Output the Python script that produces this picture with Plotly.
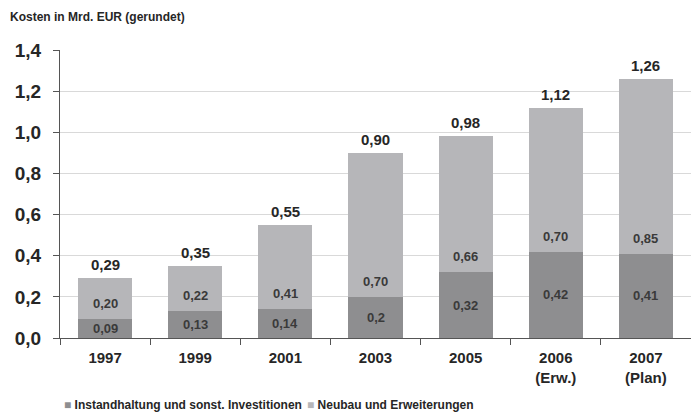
import plotly.graph_objects as go

# Jahre (Achsenbeschriftung) und Kosten in Mrd. EUR
years = ["1997", "1999", "2001", "2003", "2005", "2006<br>(Erw.)", "2007<br>(Plan)"]
instandhaltung = [0.09, 0.13, 0.14, 0.2, 0.32, 0.42, 0.41]
neubau = [0.20, 0.22, 0.41, 0.70, 0.66, 0.70, 0.85]
instandhaltung_text = ["0,09", "0,13", "0,14", "0,2", "0,32", "0,42", "0,41"]
neubau_text = ["0,20", "0,22", "0,41", "0,70", "0,66", "0,70", "0,85"]
gesamt = [0.29, 0.35, 0.55, 0.90, 0.98, 1.12, 1.26]
series_names = ["Instandhaltung und sonst. Investitionen", "Neubau und Erweiterungen"]

DARK = "#8e8e90"
LIGHT = "#b6b6b9"
FONT = "Liberation Sans, Arial, sans-serif"

fig = go.Figure()
for name, vals, col in zip(series_names, [instandhaltung, neubau], [DARK, LIGHT]):
    fig.add_trace(go.Bar(
        x=years, y=vals, name=name, showlegend=False,
        marker=dict(color=col, line=dict(width=0)), width=0.6,
    ))

annotations = []
for i, (b, n, bt, nt, tot) in enumerate(zip(instandhaltung, neubau,
                                            instandhaltung_text, neubau_text, gesamt)):
    # Wert im unteren Segment
    annotations.append(dict(x=i, y=b / 2, text=f"<b>{bt}</b>", showarrow=False,
                            yanchor="middle", font=dict(size=13, color="#3a3a3a", family=FONT)))
    # Wert im oberen Segment, knapp über der Segmentgrenze
    annotations.append(dict(x=i, y=b, text=f"<b>{nt}</b>", showarrow=False,
                            yanchor="bottom", yshift=6,
                            font=dict(size=13, color="#3a3a3a", family=FONT)))
    # Gesamtsumme über dem Balken
    annotations.append(dict(x=i, y=tot, text=f"<b>{f'{tot:.2f}'.replace('.', ',')}</b>",
                            showarrow=False, yanchor="bottom", yshift=3,
                            font=dict(size=15, color="#262626", family=FONT)))

annotations.append(dict(xref="paper", yref="paper", x=-0.083, y=1.115, xanchor="left",
                        yanchor="middle", showarrow=False,
                        text="<b>Kosten in Mrd. EUR (gerundet)</b>",
                        font=dict(size=12, color="#262626", family=FONT)))

# Legende unter der Grafik
legend_x = [0.003, 0.389]
for name, col, lx in zip(series_names, [DARK, LIGHT], legend_x):
    annotations.append(dict(xref="paper", yref="paper", x=lx, y=-0.232, xanchor="left",
                            yanchor="middle", showarrow=False,
                            text=f"<span style='color:{col}'>■</span> <b>{name}</b>",
                            font=dict(size=12, color="#262626", family=FONT)))

fig.update_layout(
    barmode="stack",
    width=691, height=412,
    margin=dict(l=60, r=0, t=50, b=74),
    paper_bgcolor="white", plot_bgcolor="white",
    separators=",.",
    font=dict(family=FONT, color="#262626"),
    annotations=annotations,
    showlegend=False,
)
fig.update_xaxes(
    type="category", range=[-0.5, 6.5],
    showline=True, linecolor="#555555", linewidth=1,
    ticks="outside", tickson="boundaries", ticklen=6, tickcolor="#555555",
    tickfont=dict(size=15, color="#262626", family=FONT),
    tickprefix="<b>", ticksuffix="</b>", ticklabelstandoff=6,
    showgrid=False,
)
fig.update_yaxes(
    range=[0, 1.4], dtick=0.2, tickformat=".1f",
    showline=True, linecolor="#555555", linewidth=1,
    ticks="outside", ticklen=6, tickcolor="#555555",
    tickfont=dict(size=19, color="#262626", family=FONT),
    tickprefix="<b>", ticksuffix="</b>", ticklabelstandoff=8,
    showgrid=True, gridcolor="#d9d9d9", gridwidth=1,
    zeroline=False,
)

fig.write_html("out.html")
